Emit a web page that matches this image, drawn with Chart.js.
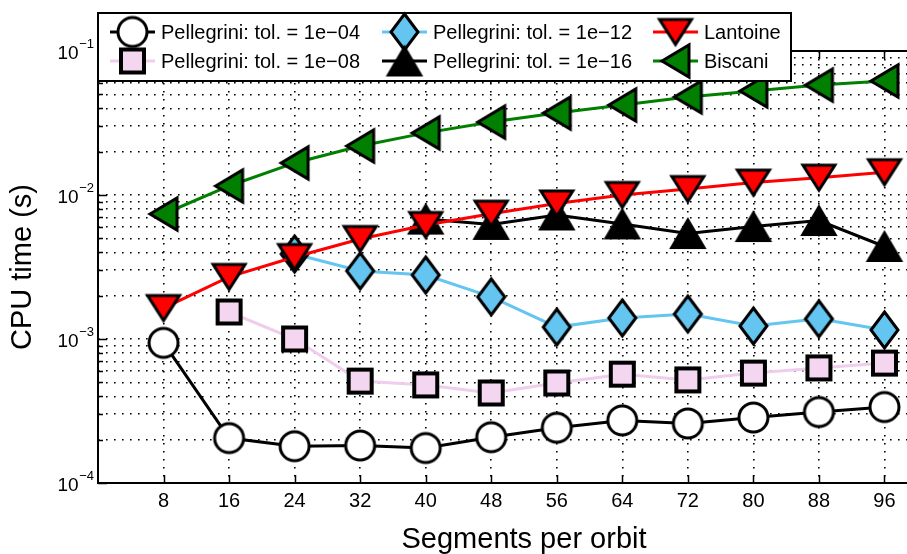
<!DOCTYPE html>
<html>
<head>
<meta charset="utf-8">
<script src="https://cdn.jsdelivr.net/npm/chart.js@4.4.1/dist/chart.umd.min.js"></script>
<style>
  html, body { margin: 0; padding: 0; background: #fff; overflow: hidden; }
  #wrap { position: relative; width: 907px; height: 554px; overflow: hidden; }
  canvas { display: block; }
</style>
</head>
<body>
<div id="wrap"><canvas id="myChart" width="950" height="554"></canvas></div>
<script>
// segments per orbit (x axis)
const segments = [8, 16, 24, 32, 40, 48, 56, 64, 72, 80, 88, 96];

// CPU time (s), null = no point
const tol04    = [9.4e-4, 2.05e-4, 1.8e-4, 1.82e-4, 1.75e-4, 2.08e-4, 2.42e-4, 2.72e-4, 2.59e-4, 2.85e-4, 3.11e-4, 3.37e-4];
const tol08    = [null, 1.54e-3, 1.0e-3, 5.1e-4, 4.8e-4, 4.22e-4, 4.95e-4, 5.7e-4, 5.2e-4, 5.8e-4, 6.3e-4, 6.8e-4];
const tol12    = [null, null, 3.89e-3, 2.97e-3, 2.78e-3, 1.96e-3, 1.21e-3, 1.40e-3, 1.49e-3, 1.23e-3, 1.38e-3, 1.155e-3];
const tol16    = [null, null, null, null, 6.8e-3, 6.25e-3, 7.27e-3, 6.3e-3, 5.4e-3, 6.04e-3, 6.65e-3, 4.39e-3];
const lantoine = [1.64e-3, 2.70e-3, 3.71e-3, 4.95e-3, 6.19e-3, 7.42e-3, 8.73e-3, 1.0e-2, 1.10e-2, 1.22e-2, 1.32e-2, 1.44e-2];
const biscani  = [7.38e-3, 1.155e-2, 1.67e-2, 2.19e-2, 2.70e-2, 3.21e-2, 3.71e-2, 4.22e-2, 4.80e-2, 5.28e-2, 5.8e-2, 6.19e-2];

const seriesNames = [
  'Pellegrini: tol. = 1e\u221204',
  'Pellegrini: tol. = 1e\u221208',
  'Pellegrini: tol. = 1e\u221212',
  'Pellegrini: tol. = 1e\u221216',
  'Lantoine',
  'Biscani'
];

// y axis: decade labels 10^exp and the minor grid multipliers
const decadeExps = [-4, -3, -2, -1];
const minorSteps = [1, 2, 3, 4, 5, 6, 7, 8, 9];

Chart.defaults.font.family = "'Liberation Sans', Arial, Helvetica, sans-serif";
Chart.defaults.color = '#000';

// marker pictures, drawn once and used as pointStyle
function makeMarker(shape, w, h, fill, stroke, lw) {
  const c = document.createElement('canvas');
  c.width = Math.ceil(w + 2 * lw + 2);
  c.height = Math.ceil(h + 2 * lw + 2);
  const g = c.getContext('2d');
  const cx = c.width / 2, cy = c.height / 2, hw = w / 2, hh = h / 2;
  g.beginPath();
  if (shape === 'circle') {
    g.arc(cx, cy, hw, 0, Math.PI * 2);
  } else if (shape === 'square') {
    g.rect(cx - hw, cy - hh, w, h);
  } else if (shape === 'diamond') {
    g.moveTo(cx, cy - hh); g.lineTo(cx + hw, cy); g.lineTo(cx, cy + hh); g.lineTo(cx - hw, cy);
  } else if (shape === 'up') {
    g.moveTo(cx, cy - hh); g.lineTo(cx + hw, cy + hh); g.lineTo(cx - hw, cy + hh);
  } else if (shape === 'down') {
    g.moveTo(cx - hw, cy - hh); g.lineTo(cx + hw, cy - hh); g.lineTo(cx, cy + hh);
  } else if (shape === 'left') {
    g.moveTo(cx - hw, cy); g.lineTo(cx + hw, cy - hh); g.lineTo(cx + hw, cy + hh);
  }
  g.closePath();
  g.fillStyle = fill;
  g.fill();
  g.lineWidth = lw;
  g.lineJoin = 'miter';
  g.strokeStyle = stroke;
  g.stroke();
  return c;
}

const markers = [
  makeMarker('circle', 29, 29, '#ffffff', '#000', 3),
  makeMarker('square', 23, 23, '#f5d6f0', '#000', 4),
  makeMarker('diamond', 27, 36, '#64c5f0', '#000', 3),
  makeMarker('up', 34, 29, '#000', '#000', 2),
  makeMarker('down', 32, 25, '#ff0000', '#000', 3),
  makeMarker('left', 27, 32, '#007f00', '#000', 3)
];
const lineColors = ['#000000', '#f0cdec', '#64c5f0', '#000000', '#ff0000', '#007f00'];
const allSeries = [tol04, tol08, tol12, tol16, lantoine, biscani];

function toPoints(vals) {
  const pts = [];
  vals.forEach(function(v, i) { if (v !== null) pts.push({x: segments[i], y: v}); });
  return pts;
}

const datasets = allSeries.map(function(vals, i) {
  return {
    label: seriesNames[i],
    data: toPoints(vals),
    borderColor: lineColors[i],
    backgroundColor: lineColors[i],
    borderWidth: 3,
    tension: 0,
    pointStyle: markers[i],
    pointRadius: 15,
    pointHoverRadius: 15,
    order: allSeries.length - i,   // later series on top, like the original
    clip: false
  };
});

let yGrid = [];
decadeExps.forEach(function(e) {
  if (e === decadeExps[decadeExps.length - 1]) { yGrid.push(Math.pow(10, e)); return; }
  minorSteps.forEach(function(m) { yGrid.push(m * Math.pow(10, e)); });
});

// axes box, inward ticks, legend box and the 10^n labels
const framePlugin = {
  id: 'frame',
  beforeDatasetsDraw(chart) {
    const ctx = chart.ctx, a = chart.chartArea;
    const xs = chart.scales.x, ys = chart.scales.y;
    ctx.save();
    ctx.strokeStyle = '#000';
    ctx.lineWidth = 1.5;
    ctx.beginPath();
    segments.forEach(function(v) {
      const px = Math.round(xs.getPixelForValue(v)) + 0.5;
      ctx.moveTo(px, a.bottom); ctx.lineTo(px, a.bottom - 8);
      ctx.moveTo(px, a.top); ctx.lineTo(px, a.top + 8);
    });
    yGrid.forEach(function(v) {
      const py = Math.round(ys.getPixelForValue(v)) + 0.5;
      const isMajor = Math.abs(Math.log10(v) - Math.round(Math.log10(v))) < 1e-9;
      ctx.moveTo(a.left, py); ctx.lineTo(a.left + (isMajor ? 9 : 5), py);
    });
    ctx.stroke();
    ctx.lineWidth = 2;
    ctx.beginPath();
    ctx.moveTo(a.right, a.top); ctx.lineTo(a.left, a.top);
    ctx.lineTo(a.left, a.bottom); ctx.lineTo(a.right, a.bottom);
    ctx.stroke();
    ctx.restore();
  },
  afterDraw(chart) {
    const ctx = chart.ctx, a = chart.chartArea;
    const ys = chart.scales.y;
    ctx.save();
    // y decade labels
    decadeExps.forEach(function(e) {
      const py = ys.getPixelForValue(Math.pow(10, e));
      const sup = '\u2212' + Math.abs(e);
      ctx.fillStyle = '#000';
      ctx.textBaseline = 'alphabetic';
      ctx.font = "13px 'Liberation Sans', Arial, sans-serif";
      const supW = ctx.measureText(sup).width;
      const supX = a.left - 4 - supW;
      ctx.textAlign = 'left';
      ctx.fillText(sup, supX, py - 3);
      ctx.font = "19px 'Liberation Sans', Arial, sans-serif";
      ctx.textAlign = 'right';
      ctx.fillText('10', supX - 0.5, py + 8);
    });

    // legend box
    const bx = a.left, by = 13, bw = 693, bh = 68;
    ctx.fillStyle = '#fff';
    ctx.fillRect(bx, by, bw, bh);
    ctx.strokeStyle = '#000';
    ctx.lineWidth = 2;
    ctx.strokeRect(bx, by, bw, bh);
    const cols = [110, 382, 653];
    const rows = [32, 61];
    chart.data.datasets.forEach(function(ds, i) {
      const x0 = cols[Math.floor(i / 2)], y = rows[i % 2];
      ctx.strokeStyle = ds.borderColor;
      ctx.lineWidth = 3;
      ctx.beginPath();
      ctx.moveTo(x0, y); ctx.lineTo(x0 + 45, y);
      ctx.stroke();
      const m = ds.pointStyle;
      ctx.drawImage(m, x0 + 22.5 - m.width / 2, y - m.height / 2);
      ctx.fillStyle = '#000';
      ctx.font = "20px 'Liberation Sans', Arial, sans-serif";
      ctx.textAlign = 'left';
      ctx.textBaseline = 'middle';
      ctx.fillText(ds.label, x0 + 51, y + 1);
    });
    ctx.restore();
  }
};

const ctx = document.getElementById('myChart').getContext('2d');
const myChart = new Chart(ctx, {
  type: 'line',
  data: { datasets: datasets },
  options: {
    responsive: false,
    devicePixelRatio: 1,
    animation: false,
    layout: { autoPadding: false, padding: { top: 51, left: 0, right: 0, bottom: 0 } },
    plugins: {
      legend: { display: false },
      tooltip: { enabled: false }
    },
    scales: {
      x: {
        type: 'linear',
        min: 0,
        max: 104,
        afterBuildTicks: function(scale) {
          scale.ticks = segments.map(function(v) { return {value: v}; });
        },
        ticks: { font: { size: 20 }, color: '#000', padding: 6, maxRotation: 0, autoSkip: false },
        grid: { color: '#000', lineWidth: 1.6, drawTicks: false },
        border: { display: false, dash: [1.6, 6.4] },
        title: {
          display: true,
          text: 'Segments per orbit',
          font: { size: 29 },
          color: '#000',
          padding: { top: 3.2, bottom: -3 }
        }
      },
      y: {
        type: 'logarithmic',
        min: Math.pow(10, decadeExps[0]),
        max: Math.pow(10, decadeExps[decadeExps.length - 1]),
        afterBuildTicks: function(scale) {
          scale.ticks = yGrid.map(function(v) { return {value: v}; });
        },
        ticks: { display: false },
        grid: { color: '#000', lineWidth: 1.6, drawTicks: false },
        border: { display: false, dash: [1.6, 6.4] },
        title: {
          display: true,
          text: 'CPU time (s)',
          font: { size: 29 },
          color: '#000',
          padding: { top: 5.6, bottom: 57.6 }
        }
      }
    }
  },
  plugins: [framePlugin]
});
</script>
</body>
</html>
